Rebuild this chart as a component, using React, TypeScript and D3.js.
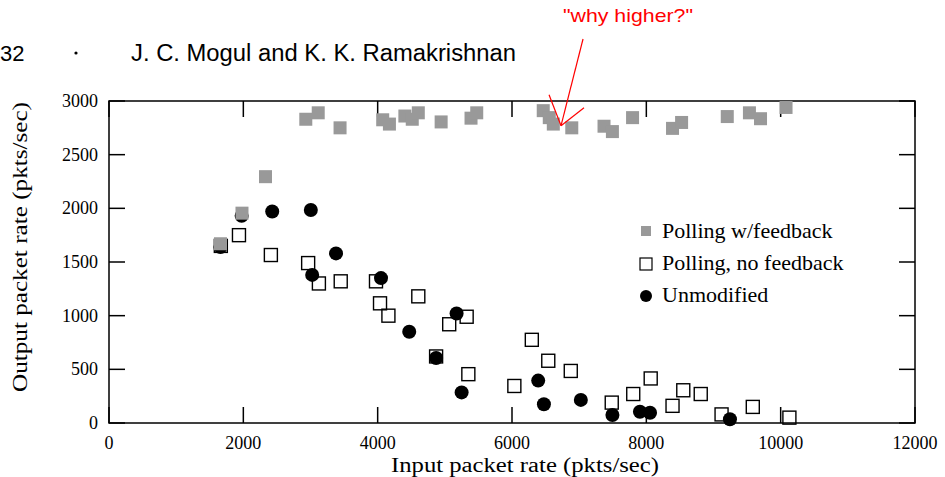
import React from "react";
import * as d3 from "d3";

// Polling w/feedback (gray filled squares)
const fbX = [1660, 1980, 2330, 2930, 3115, 3440, 4075, 4175, 4405, 4515, 4605, 4945, 5390, 5475, 6465, 6555, 6615, 6890, 7370, 7495, 7795, 8390, 8525, 9205, 9535, 9700, 10080];
const fbY = [1670, 1955, 2295, 2830, 2890, 2750, 2825, 2785, 2860, 2830, 2890, 2805, 2840, 2890, 2910, 2845, 2785, 2750, 2765, 2715, 2845, 2745, 2800, 2855, 2890, 2835, 2940];

// Polling, no feedback (open squares)
const nfX = [1665, 1935, 2410, 2965, 3125, 3450, 3975, 4035, 4160, 4605, 4870, 5065, 5325, 5350, 6035, 6295, 6540, 6875, 7485, 7805, 8065, 8390, 8550, 8810, 9120, 9585, 10130];
const nfY = [1650, 1750, 1565, 1490, 1300, 1320, 1320, 1115, 1000, 1180, 620, 920, 990, 455, 345, 775, 580, 485, 190, 270, 415, 160, 305, 270, 80, 150, 50];

// Unmodified (filled circles)
const umX = [1660, 1975, 2430, 3005, 3025, 3380, 4050, 4470, 4870, 5175, 5250, 6390, 6475, 7025, 7495, 7905, 8055, 9245];
const umY = [1640, 1930, 1970, 1985, 1380, 1580, 1350, 850, 605, 1020, 285, 395, 175, 215, 75, 105, 95, 35];

const xTicks = [0, 2000, 4000, 6000, 8000, 10000, 12000];
const yTicks = [0, 500, 1000, 1500, 2000, 2500, 3000];
const legendLabels = ["Polling w/feedback", "Polling, no feedback", "Unmodified"];
const annotationTip = [6730, 2770];

const W = 945;
const H = 477;
const L = 109, R = 915, T = 101, B = 423;
const GRAY = "#999999";
const SERIF = "'Liberation Serif', 'Times New Roman', serif";
const SANS = "'Liberation Sans', Arial, sans-serif";

export default function App() {
  const x = d3.scaleLinear().domain([0, 12000]).range([L, R]);
  const y = d3.scaleLinear().domain([0, 3000]).range([B, T]);
  const tl = 16;
  const sq = 13;
  const tip = [x(annotationTip[0]), y(annotationTip[1])];

  return (
    <svg width={W} height={H} style={{ position: "absolute", left: 0, top: 0, background: "#fff" }}>
      {/* header */}
      <text x={0} y={61} fontFamily={SANS} fontSize={22}>32</text>
      <circle cx={76} cy={53} r={1.6} fill="#000" />
      <text x={131} y={61} fontFamily={SANS} fontSize={23} textLength={385} lengthAdjust="spacingAndGlyphs">J. C. Mogul and K. K. Ramakrishnan</text>

      {/* ticks */}
      {xTicks.map((t) => (
        <g key={"xt" + t}>
          <line x1={x(t)} x2={x(t)} y1={B} y2={B - tl} stroke="#000" strokeWidth={1.5} />
          <line x1={x(t)} x2={x(t)} y1={T} y2={T + tl} stroke="#000" strokeWidth={1.5} />
          <text x={x(t)} y={449} textAnchor="middle" fontFamily={SERIF} fontSize={18}>{t}</text>
        </g>
      ))}
      {yTicks.map((t) => (
        <g key={"yt" + t}>
          <line x1={L} x2={L + tl} y1={y(t)} y2={y(t)} stroke="#000" strokeWidth={1.5} />
          <line x1={R} x2={R - tl} y1={y(t)} y2={y(t)} stroke="#000" strokeWidth={1.5} />
          <text x={98} y={y(t) + 6} textAnchor="end" fontFamily={SERIF} fontSize={18}>{t}</text>
        </g>
      ))}
      <rect x={L} y={T} width={R - L} height={B - T} fill="none" stroke="#000" strokeWidth={1.5} />

      {/* axis labels */}
      <text x={391} y={472} fontFamily={SERIF} fontSize={20} textLength={268} lengthAdjust="spacingAndGlyphs">Input packet rate (pkts/sec)</text>
      <text transform={`translate(27,392) rotate(-90)`} fontFamily={SERIF} fontSize={20} textLength={290} lengthAdjust="spacingAndGlyphs">Output packet rate (pkts/sec)</text>

      {/* data */}
      {nfX.map((v, i) => (
        <rect key={"nf" + i} x={x(v) - sq / 2} y={y(nfY[i]) - sq / 2} width={sq} height={sq} fill="none" stroke="#000" strokeWidth={1.4} />
      ))}
      {umX.map((v, i) => (
        <circle key={"um" + i} cx={x(v)} cy={y(umY[i])} r={7} fill="#000" />
      ))}
      {fbX.map((v, i) => (
        <rect key={"fb" + i} x={x(v) - sq / 2} y={y(fbY[i]) - sq / 2} width={sq} height={sq} fill={GRAY} />
      ))}

      {/* legend */}
      <rect x={646 - 5} y={231 - 5} width={10} height={10} fill={GRAY} />
      <rect x={646 - 6} y={264 - 6} width={12} height={12} fill="none" stroke="#000" strokeWidth={1.2} />
      <circle cx={646} cy={296} r={6} fill="#000" />
      {legendLabels.map((s, i) => (
        <text key={s} x={662} y={238 + i * 32} fontFamily={SERIF} fontSize={22}>{s}</text>
      ))}

      {/* annotation */}
      <text x={563} y={22} fill="#ff0000" fontFamily={SANS} fontSize={19} textLength={130} lengthAdjust="spacingAndGlyphs">"why higher?"</text>
      <line x1={tip[0] + 22} y1={39} x2={tip[0]} y2={tip[1]} stroke="#ff0000" strokeWidth={1.2} />
      <line x1={tip[0] - 12} y1={tip[1] - 31} x2={tip[0]} y2={tip[1]} stroke="#ff0000" strokeWidth={1.2} />
      <line x1={tip[0] + 23} y1={tip[1] - 18} x2={tip[0]} y2={tip[1]} stroke="#ff0000" strokeWidth={1.2} />
    </svg>
  );
}
